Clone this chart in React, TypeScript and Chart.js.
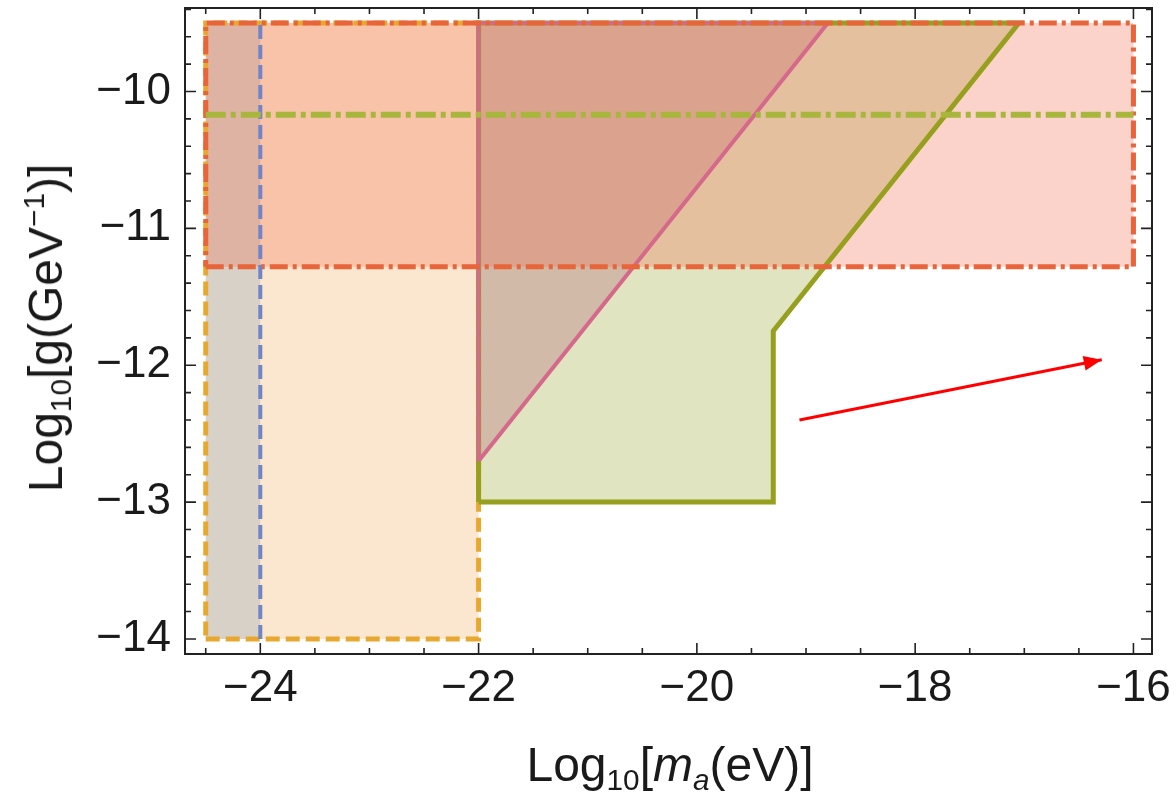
import React, { useEffect, useRef } from 'react';
import { Chart, registerables } from 'chart.js';
Chart.register(...registerables);

// Axis ranges
const X_MIN = -24.69;
const X_MAX = -15.83;
const Y_MIN = -14.11;
const Y_MAX = -9.39;
const xTickValues = [-24, -22, -20, -18, -16];
const yTickValues = [-14, -13, -12, -11, -10];
const xMinorStep = 0.5;
const yMinorStep = 0.2;

// Regions (closed outlines)
const redRectX = [-24.5, -16, -16, -24.5, -24.5];
const redRectY = [-11.28, -11.28, -9.5, -9.5, -11.28];
const peachRectX = [-24.5, -22, -22, -24.5, -24.5];
const peachRectY = [-14, -14, -9.5, -9.5, -14];
const greyBandX = [-24.5, -24, -24, -24.5, -24.5];
const greyBandY = [-14, -14, -9.5, -9.5, -14];
const blueLineX = [-24, -24];
const blueLineY = [-14, -9.5];
const pinkTriX = [-22, -18.8, -22, -22];
const pinkTriY = [-12.7, -9.5, -9.5, -12.7];
const greenPolyX = [-22, -19.3, -19.3, -17.05, -22, -22];
const greenPolyY = [-13, -13, -11.75, -9.5, -9.5, -13];
const greenDashX = [-24.5, -16];
const greenDashY = [-10.17, -10.17];
const arrowX = [-19.06, -16.29];
const arrowY = [-12.4, -11.96];

const pts = (xs: number[], ys: number[]) => xs.map((x, i) => ({ x, y: ys[i] }));
const FONT = '"Liberation Sans", Arial, sans-serif';
const minus = (v: number) => String(v).replace('-', '\u2212');

const framePlugin = {
  id: 'frameTicks',
  afterDatasetsDraw(chart: any) {
    const { ctx, chartArea: a, scales } = chart;
    const xs = scales.x;
    const ys = scales.y;
    ctx.save();
    ctx.strokeStyle = '#222';
    ctx.lineWidth = 2;
    ctx.strokeRect(a.left, a.top, a.right - a.left, a.bottom - a.top);
    ctx.lineWidth = 1.6;
    const drawX = (v: number, len: number) => {
      const px = xs.getPixelForValue(v);
      if (px < a.left || px > a.right) return;
      ctx.beginPath();
      ctx.moveTo(px, a.bottom); ctx.lineTo(px, a.bottom - len);
      ctx.moveTo(px, a.top); ctx.lineTo(px, a.top + len);
      ctx.stroke();
    };
    const drawY = (v: number, len: number) => {
      const py = ys.getPixelForValue(v);
      if (py < a.top || py > a.bottom) return;
      ctx.beginPath();
      ctx.moveTo(a.left, py); ctx.lineTo(a.left + len, py);
      ctx.moveTo(a.right, py); ctx.lineTo(a.right - len, py);
      ctx.stroke();
    };
    for (let i = Math.ceil(X_MIN / xMinorStep); i * xMinorStep <= X_MAX; i++) {
      const v = i * xMinorStep;
      const isMajor = xTickValues.some((t) => Math.abs(t - v) < 1e-6);
      drawX(v, isMajor ? 11 : 6);
    }
    for (let i = Math.ceil(Y_MIN / yMinorStep); i * yMinorStep <= Y_MAX; i++) {
      const v = i * yMinorStep;
      const isMajor = yTickValues.some((t) => Math.abs(t - v) < 1e-6);
      drawY(v, isMajor ? 11 : 6);
    }
    // arrow head
    const meta = chart.getDatasetMeta(0);
    if (meta && meta.data.length > 1) {
      const p0 = meta.data[0];
      const p1 = meta.data[1];
      const ang = Math.atan2(p1.y - p0.y, p1.x - p0.x);
      const L = 18, W = 7.5;
      ctx.fillStyle = 'rgb(255,0,0)';
      ctx.beginPath();
      ctx.moveTo(p1.x, p1.y);
      ctx.lineTo(p1.x - L * Math.cos(ang) + W * Math.sin(ang), p1.y - L * Math.sin(ang) - W * Math.cos(ang));
      ctx.lineTo(p1.x - L * Math.cos(ang) - W * Math.sin(ang), p1.y - L * Math.sin(ang) + W * Math.cos(ang));
      ctx.closePath();
      ctx.fill();
    }
    ctx.restore();
  },
};

export default function App() {
  const ref = useRef<HTMLCanvasElement>(null);
  useEffect(() => {
    if (!ref.current) return;
    const common = { showLine: true, pointRadius: 0, pointHoverRadius: 0, tension: 0, borderCapStyle: 'butt' as const, borderJoinStyle: 'miter' as const };
    const chart = new Chart(ref.current, {
      type: 'scatter',
      data: {
        datasets: [
          { ...common, label: 'arrow', data: pts(arrowX, arrowY), borderColor: 'rgb(255,0,0)', borderWidth: 3, fill: false },
          { ...common, label: 'greenDash', data: pts(greenDashX, greenDashY), borderColor: 'rgb(168,182,62)', borderWidth: 6, borderDash: [20, 5, 5, 5], fill: false },
          { ...common, label: 'blue', data: pts(blueLineX, blueLineY), borderColor: 'rgb(112,132,200)', borderWidth: 4, borderDash: [14, 6], fill: false },
          { ...common, label: 'red', data: pts(redRectX, redRectY), borderColor: 'rgb(232,100,58)', borderWidth: 5, borderDash: [18, 5, 4, 5], fill: 'shape', backgroundColor: 'rgba(242,110,80,0.3)' },
          { ...common, label: 'pink', data: pts(pinkTriX, pinkTriY), borderColor: 'rgb(212,105,140)', borderWidth: 4, fill: 'shape', backgroundColor: 'rgba(175,90,110,0.3)' },
          { ...common, label: 'green', data: pts(greenPolyX, greenPolyY), borderColor: 'rgb(150,160,30)', borderWidth: 5, fill: 'shape', backgroundColor: 'rgba(170,180,80,0.36)' },
          { ...common, label: 'grey', data: pts(greyBandX, greyBandY), borderColor: 'rgba(0,0,0,0)', borderWidth: 0, fill: 'shape', backgroundColor: 'rgba(150,170,190,0.35)' },
          { ...common, label: 'peach', data: pts(peachRectX, peachRectY), borderColor: 'rgb(232,168,48)', borderWidth: 5, borderDash: [14, 6], fill: 'shape', backgroundColor: 'rgba(242,175,95,0.3)' },
        ],
      },
      options: {
        animation: false,
        responsive: false,
        layout: { padding: { left: 0, top: 8, right: 24, bottom: 0 } },
        plugins: {
          legend: { display: false },
          tooltip: { enabled: false },
          filler: { drawTime: 'beforeDatasetsDraw' },
        } as any,
        scales: {
          x: {
            type: 'linear',
            min: X_MIN,
            max: X_MAX,
            grid: { display: false, drawTicks: false },
            border: { display: false },
            afterBuildTicks: (s: any) => { s.ticks = xTickValues.map((v) => ({ value: v })); },
            afterFit: (s: any) => { s.height = 144; s.paddingLeft = 0; s.paddingRight = 0; },
            ticks: { font: { family: FONT, size: 44 }, color: '#1a1a1a', padding: 8, maxRotation: 0, callback: (v: any) => minus(v) },
          },
          y: {
            type: 'linear',
            min: Y_MIN,
            max: Y_MAX,
            grid: { display: false, drawTicks: false },
            border: { display: false },
            afterBuildTicks: (s: any) => { s.ticks = yTickValues.map((v) => ({ value: v })); },
            afterFit: (s: any) => { s.width = 185; s.paddingTop = 0; s.paddingBottom = 0; },
            ticks: { font: { family: FONT, size: 44 }, color: '#1a1a1a', padding: 14, callback: (v: any) => minus(v) },
          },
        },
      },
      plugins: [framePlugin],
    });
    return () => chart.destroy();
  }, []);

  const sub: React.CSSProperties = { fontSize: '0.62em', position: 'relative', top: '0.3em' };
  const sup: React.CSSProperties = { fontSize: '0.62em', position: 'relative', top: '-0.6em' };
  return (
    <div style={{ position: 'fixed', left: 0, top: 0, width: 1176, height: 798, background: '#fff', overflow: 'hidden' }}>
      <canvas ref={ref} width={1176} height={798} style={{ display: 'block' }} />
      <div style={{ position: 'absolute', left: 670, top: 765, transform: 'translate(-50%,-50%)', fontFamily: FONT, fontSize: 48, color: '#1a1a1a', whiteSpace: 'nowrap', lineHeight: 1 }}>
        Log<span style={sub}>10</span>[<i>m</i><span style={{ ...sub, fontStyle: 'italic' }}>a</span>(eV)]
      </div>
      <div style={{ position: 'absolute', left: 46, top: 328, transform: 'translate(-50%,-50%) rotate(-90deg)', fontFamily: FONT, fontSize: 48, color: '#1a1a1a', whiteSpace: 'nowrap', lineHeight: 1 }}>
        Log<span style={sub}>10</span>[g(GeV<span style={sup}>{'\u2212'}1</span>)]
      </div>
    </div>
  );
}
